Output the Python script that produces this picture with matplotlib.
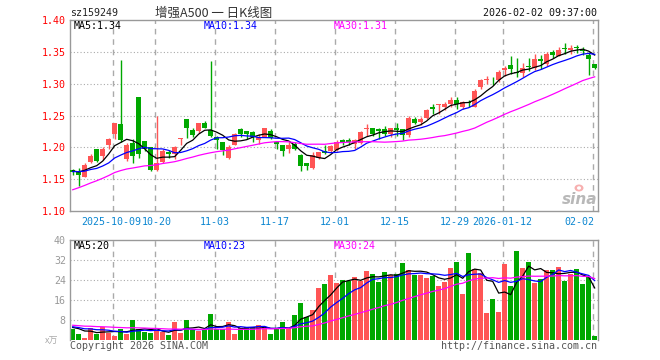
#!/usr/bin/env python3
"""
Daily K-line chart for sz159249 (增强A500), sina-style layout
"""

import matplotlib
matplotlib.use("Agg")
import matplotlib.pyplot as plt
import matplotlib.transforms as mtransforms
from matplotlib.patches import Ellipse
import numpy as np
import pandas as pd

plt.rcParams['font.family'] = ['DejaVu Sans Mono', 'Noto Sans CJK SC']

# daily candles, oldest first (last one is 2026-02-02 intraday)
opens = [1.165, 1.163, 1.154, 1.177, 1.197, 1.187, 1.204, 1.221, 1.237, 1.181,
         1.207, 1.279, 1.210, 1.200, 1.165, 1.177, 1.193, 1.190, 1.213, 1.244,
         1.227, 1.225, 1.238, 1.227, 1.217, 1.209, 1.184, 1.204, 1.229, 1.225,
         1.224, 1.212, 1.216, 1.226, 1.208, 1.203, 1.197, 1.205, 1.188, 1.175,
         1.168, 1.184, 1.194, 1.195, 1.196, 1.211, 1.212, 1.205, 1.207, 1.229,
         1.231, 1.229, 1.229, 1.221, 1.230, 1.229, 1.219, 1.245, 1.240, 1.246,
         1.263, 1.2665, 1.263, 1.268, 1.275, 1.263, 1.2712, 1.264, 1.294, 1.305,
         1.306, 1.305, 1.322, 1.329, 1.319, 1.317, 1.327, 1.324, 1.338, 1.331,
         1.350, 1.344, 1.3555, 1.3534, 1.357, 1.3534, 1.345, 1.331]
highs = [1.166, 1.167, 1.175, 1.189, 1.197, 1.201, 1.214, 1.239, 1.337, 1.207,
         1.213, 1.279, 1.210, 1.201, 1.250, 1.197, 1.196, 1.202, 1.215, 1.245,
         1.231, 1.238, 1.242, 1.335, 1.218, 1.209, 1.204, 1.222, 1.230, 1.226,
         1.225, 1.221, 1.231, 1.229, 1.210, 1.203, 1.208, 1.208, 1.190, 1.175,
         1.192, 1.193, 1.204, 1.203, 1.211, 1.213, 1.215, 1.213, 1.225, 1.236,
         1.231, 1.230, 1.233, 1.231, 1.238, 1.229, 1.250, 1.247, 1.247, 1.260,
         1.268, 1.268, 1.271, 1.279, 1.279, 1.273, 1.275, 1.292, 1.307, 1.312,
         1.310, 1.322, 1.328, 1.343, 1.340, 1.333, 1.340, 1.347, 1.345, 1.349,
         1.353, 1.357, 1.364, 1.361, 1.361, 1.357, 1.349, 1.331]
lows = [1.156, 1.140, 1.153, 1.175, 1.177, 1.180, 1.197, 1.213, 1.208, 1.179,
        1.175, 1.183, 1.195, 1.163, 1.163, 1.175, 1.184, 1.181, 1.203, 1.215,
        1.216, 1.223, 1.231, 1.217, 1.197, 1.188, 1.181, 1.203, 1.216, 1.213,
        1.208, 1.205, 1.216, 1.213, 1.197, 1.187, 1.191, 1.196, 1.163, 1.165,
        1.166, 1.182, 1.190, 1.192, 1.195, 1.203, 1.204, 1.197, 1.205, 1.218,
        1.218, 1.213, 1.218, 1.217, 1.218, 1.211, 1.216, 1.237, 1.235, 1.245,
        1.252, 1.252, 1.259, 1.264, 1.260, 1.260, 1.263, 1.263, 1.292, 1.300,
        1.298, 1.303, 1.3125, 1.315, 1.310, 1.310, 1.320, 1.322, 1.323, 1.328,
        1.340, 1.343, 1.347, 1.347, 1.348, 1.345, 1.314, 1.3235]
closes = [1.161, 1.157, 1.173, 1.186, 1.179, 1.197, 1.213, 1.238, 1.211, 1.204,
          1.186, 1.190, 1.197, 1.165, 1.176, 1.195, 1.190, 1.201, 1.215, 1.230,
          1.220, 1.238, 1.231, 1.218, 1.212, 1.196, 1.201, 1.221, 1.221, 1.221,
          1.216, 1.216, 1.231, 1.215, 1.205, 1.195, 1.204, 1.198, 1.171, 1.170,
          1.188, 1.192, 1.191, 1.202, 1.209, 1.208, 1.208, 1.212, 1.224, 1.231,
          1.221, 1.226, 1.221, 1.230, 1.228, 1.219, 1.246, 1.239, 1.245, 1.258,
          1.260, 1.268, 1.268, 1.275, 1.268, 1.271, 1.2702, 1.289, 1.306, 1.307,
          1.305, 1.319, 1.324, 1.323, 1.317, 1.324, 1.326, 1.339, 1.336, 1.347,
          1.345, 1.353, 1.3545, 1.3555, 1.3555, 1.352, 1.338, 1.324]
# volume, x10k
volumes = [4.3, 2.4, 0.9, 4.8, 2.4, 5.3, 2.9, 1.6, 4.3, 2.4,
           8.0, 4.3, 3.3, 2.9, 4.0, 3.3, 2.0, 7.3, 2.9, 8.0,
           4.0, 3.7, 4.3, 10.4, 4.3, 4.3, 7.3, 2.4, 4.7, 5.1,
           5.1, 6.0, 4.7, 2.4, 4.7, 7.3, 4.7, 10.0, 14.9, 9.1,
           12.0, 20.7, 22.4, 26.0, 22.9, 24.0, 23.6, 25.2, 23.7, 27.6,
           26.4, 23.3, 27.2, 25.9, 26.5, 30.9, 28.0, 26.1, 26.1, 24.8,
           25.7, 21.6, 23.2, 28.8, 31.3, 18.5, 34.9, 28.3, 26.9, 10.9,
           16.4, 11.3, 30.4, 21.7, 35.7, 28.8, 31.2, 22.8, 24.4, 28.0,
           28.0, 29.2, 23.7, 26.4, 28.4, 22.4, 25.1, 1.8]

# sessions before the visible window, only used to seed the moving averages
prev_closes = [1.060, 1.065, 1.070, 1.075, 1.080, 1.085, 1.095,
               1.120, 1.130, 1.140, 1.140, 1.145, 1.150, 1.135,
               1.140, 1.150, 1.155, 1.145, 1.150, 1.152,
               1.158, 1.165, 1.160, 1.162, 1.159, 1.165, 1.160, 1.166, 1.163]
prev_volumes = [7.5, 6.8, 5.9, 6.4, 7.2, 5.5, 6.0, 6.6, 5.8, 6.9,
                6.1, 5.4, 6.3, 5.7, 6.5, 5.9, 6.2, 5.6, 6.0, 5.8,
                5.6, 5.8, 5.2, 5.6, 5.6, 4.8, 5.6, 5.1, 5.3]

date_pos = [7, 14, 24, 34, 44, 54, 64, 72, 87]
date_labels = ['2025-10-09', '10-20', '11-03', '11-17', '12-01',
               '12-15', '12-29', '2026-01-12', '02-02']
price_ticks = [1.10, 1.15, 1.20, 1.25, 1.30, 1.35, 1.40]
vol_ticks = [8, 16, 24, 32, 40]

RED = '#ff5555'
GREEN = '#00a800'
GRID = '#aaaaaa'
BORDER = '#999999'
MA_COLORS = ['black', '#0000ff', '#ff00ff']

W, H = 660, 360
FS = 7.2


def box(left, top, right, bottom):
    return [left / W, 1 - bottom / H, (right - left) / W, (bottom - top) / H]


def ma(prev, vals, n):
    s = pd.Series(list(prev) + list(vals)).rolling(n).mean()
    return s.iloc[len(prev):].to_numpy()


o = np.array(opens)
h = np.array(highs)
l = np.array(lows)
c = np.array(closes)
v = np.array(volumes)
x = np.arange(len(c))
up = c >= o
colors = np.where(up, RED, GREEN)

fig = plt.figure(figsize=(W / 100, H / 100), dpi=100)
fig.patch.set_facecolor('white')

ax = fig.add_axes(box(70, 20, 597.5, 211))
axv = fig.add_axes(box(70, 240, 597.5, 340))

for a in (ax, axv):
    a.set_xlim(-0.45, 87.47)
    a.set_xticks([])
    for sp in a.spines.values():
        sp.set_color(BORDER)
        sp.set_linewidth(1.0)
    for p in date_pos:
        a.axvline(p - 0.35, color=GRID, lw=1.0, ls=(0, (4, 3.5)), zorder=0)
    a.tick_params(axis='y', length=0, pad=3)
axv.spines['bottom'].set_visible(False)

# price panel
ax.set_ylim(1.10, 1.40)
for p in price_ticks[1:-1]:
    ax.axhline(p, color=GRID, lw=0.8, ls=(0, (1, 2)), zorder=0)
ax.set_yticks(price_ticks)
ax.set_yticklabels([f'{p:.2f}' for p in price_ticks], color='red', fontsize=FS)

ax.vlines(x, l, h, colors=colors, lw=1.0, zorder=2)
body_h = np.maximum(np.abs(c - o), 0.0009)
ax.bar(x, body_h, bottom=np.minimum(o, c), width=0.75, color=colors,
       linewidth=0, zorder=3)

for n, col in zip([5, 10, 30], MA_COLORS):
    ax.plot(x, ma(prev_closes, closes, n), color=col, lw=0.9, zorder=4)

# date labels under the price panel (first two sit edge to edge, last one hugs the border)
trans = mtransforms.blended_transform_factory(ax.transData, ax.transAxes)
for k, (p, lab) in enumerate(zip(date_pos, date_labels)):
    if k == 0:
        ha, xp = 'right', p + 4.4
    elif k == 1:
        ha, xp = 'left', p - 2.5
    elif k == len(date_pos) - 1:
        ha, xp = 'right', p - 0.1
    else:
        ha, xp = 'center', p - 0.35
    ax.text(xp, -0.056, lab, transform=trans, ha=ha, va='center',
            fontsize=FS, color='#0b86d1')

# volume panel
axv.set_ylim(0, 40)
for t in vol_ticks[:-1]:
    axv.axhline(t, color=GRID, lw=0.8, ls=(0, (1, 2)), zorder=0)
axv.set_yticks(vol_ticks)
axv.set_yticklabels([str(t) for t in vol_ticks], color='#999999', fontsize=FS)
axv.bar(x, v, width=0.82, color=colors, linewidth=0, zorder=2)
for n, col in zip([5, 10, 30], MA_COLORS):
    axv.plot(x, ma(prev_volumes, volumes, n), color=col, lw=0.9, zorder=3)

# header
fig.text(70 / W, 1 - 13 / H, 'sz159249', fontsize=FS, ha='left', va='center',
         color='#222222')
fig.text(214 / W, 1 - 13 / H, '增强A500 一 日K线图', fontsize=9, ha='center',
         va='center', color='#333333', family=['Noto Sans CJK SC', 'DejaVu Sans'])
fig.text(597 / W, 1 - 13 / H, '2026-02-02 09:37:00', fontsize=FS, ha='right',
         va='center', color='#111111')

# moving average legends
for xp, txt, col in [(74, 'MA5:1.34', MA_COLORS[0]), (204, 'MA10:1.34', MA_COLORS[1]),
                     (334, 'MA30:1.31', MA_COLORS[2])]:
    fig.text(xp / W, 1 - 26 / H, txt, fontsize=FS, ha='left', va='center', color=col)
for xp, txt, col in [(74, 'MA5:20', MA_COLORS[0]), (204, 'MA10:23', MA_COLORS[1]),
                     (334, 'MA30:24', MA_COLORS[2])]:
    fig.text(xp / W, 1 - 246 / H, txt, fontsize=FS, ha='left', va='center', color=col)

# volume unit
fig.text(58 / W, 1 - 341 / H, 'x万', fontsize=6.5, ha='right', va='center',
         color='#aaaaaa', family=['Noto Sans CJK SC', 'DejaVu Sans'])

# footer
fig.text(70 / W, 1 - 346 / H, 'Copyright 2026 SINA.COM', fontsize=FS, ha='left',
         va='center', color='#555555')
fig.text(597 / W, 1 - 346 / H, 'http://finance.sina.com.cn', fontsize=FS,
         ha='right', va='center', color='#555555')

# sina watermark
fig.text(580 / W, 1 - 200 / H, 'sina', fontsize=11, style='italic',
         weight='bold', ha='center', va='center', color='#b8b8b8',
         family='DejaVu Sans')
fig.patches.append(Ellipse((579 / W, 1 - 188 / H), 9 / W, 7 / H,
                           transform=fig.transFigure, facecolor='#f6a3a3',
                           edgecolor='none', alpha=0.85))
fig.patches.append(Ellipse((579 / W, 1 - 188 / H), 4 / W, 3.5 / H,
                           transform=fig.transFigure, facecolor='white',
                           edgecolor='none'))

fig.savefig('out.png', dpi=100, facecolor='white')
